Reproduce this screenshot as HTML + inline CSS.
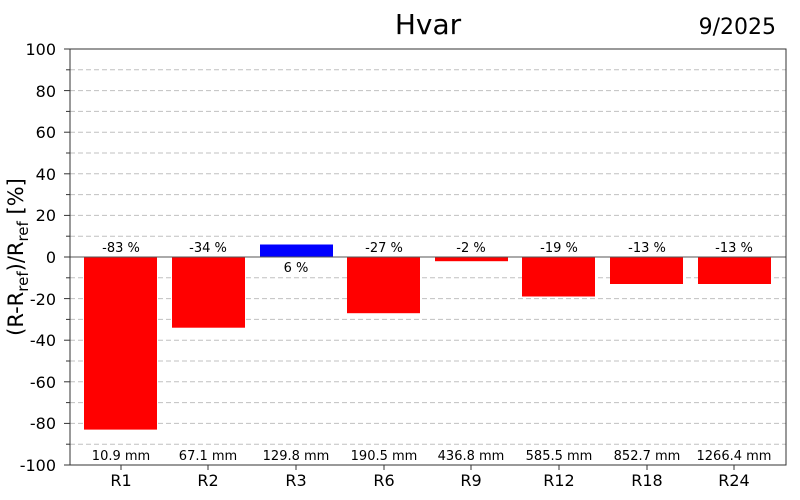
<!DOCTYPE html>
<html><head><style>body{margin:0;background:#fff}svg{display:block;font-family:"DejaVu Sans","Liberation Sans",sans-serif}</style></head><body>
<svg width="800" height="500" viewBox="0 0 800 500">
<g stroke="#c0c0c0" stroke-dasharray="5,3" stroke-width="1">
<line x1="70" x2="786" y1="69.8" y2="69.8"/><line x1="70" x2="786" y1="90.6" y2="90.6"/><line x1="70" x2="786" y1="111.4" y2="111.4"/><line x1="70" x2="786" y1="132.2" y2="132.2"/><line x1="70" x2="786" y1="153" y2="153"/><line x1="70" x2="786" y1="173.8" y2="173.8"/><line x1="70" x2="786" y1="194.6" y2="194.6"/><line x1="70" x2="786" y1="215.4" y2="215.4"/><line x1="70" x2="786" y1="236.2" y2="236.2"/><line x1="70" x2="786" y1="277.8" y2="277.8"/><line x1="70" x2="786" y1="298.6" y2="298.6"/><line x1="70" x2="786" y1="319.4" y2="319.4"/><line x1="70" x2="786" y1="340.2" y2="340.2"/><line x1="70" x2="786" y1="361" y2="361"/><line x1="70" x2="786" y1="381.8" y2="381.8"/><line x1="70" x2="786" y1="402.6" y2="402.6"/><line x1="70" x2="786" y1="423.4" y2="423.4"/><line x1="70" x2="786" y1="444.2" y2="444.2"/>
</g>
<g fill="#ff0000">
<rect x="84" y="257" width="73" height="172.6"/>
<rect x="172" y="257" width="73" height="70.7"/>
<rect x="347" y="257" width="73" height="56.2"/>
<rect x="435" y="257" width="73" height="4.2"/>
<rect x="522" y="257" width="73" height="39.5"/>
<rect x="610" y="257" width="73" height="27"/>
<rect x="698" y="257" width="73" height="27"/>
</g>
<rect x="260" y="244.5" width="73" height="12.5" fill="#0000ff"/>
<line x1="70" x2="786" y1="257" y2="257" stroke="#555" stroke-width="1"/>
<rect x="70" y="49" width="716" height="416" fill="none" stroke="#333" stroke-width="1"/>
<g stroke="#333">
<line x1="64" x2="70" y1="49" y2="49"/><line x1="64" x2="70" y1="90.6" y2="90.6"/><line x1="64" x2="70" y1="132.2" y2="132.2"/><line x1="64" x2="70" y1="173.8" y2="173.8"/><line x1="64" x2="70" y1="215.4" y2="215.4"/><line x1="64" x2="70" y1="257" y2="257"/><line x1="64" x2="70" y1="298.6" y2="298.6"/><line x1="64" x2="70" y1="340.2" y2="340.2"/><line x1="64" x2="70" y1="381.8" y2="381.8"/><line x1="64" x2="70" y1="423.4" y2="423.4"/><line x1="64" x2="70" y1="465" y2="465"/>
<line x1="66" x2="70" y1="69.8" y2="69.8"/><line x1="66" x2="70" y1="111.4" y2="111.4"/><line x1="66" x2="70" y1="153" y2="153"/><line x1="66" x2="70" y1="194.6" y2="194.6"/><line x1="66" x2="70" y1="236.2" y2="236.2"/><line x1="66" x2="70" y1="277.8" y2="277.8"/><line x1="66" x2="70" y1="319.4" y2="319.4"/><line x1="66" x2="70" y1="361" y2="361"/><line x1="66" x2="70" y1="402.6" y2="402.6"/><line x1="66" x2="70" y1="444.2" y2="444.2"/>
<line x1="121" x2="121" y1="465" y2="470"/><line x1="208" x2="208" y1="465" y2="470"/><line x1="296" x2="296" y1="465" y2="470"/><line x1="384" x2="384" y1="465" y2="470"/><line x1="471" x2="471" y1="465" y2="470"/><line x1="559" x2="559" y1="465" y2="470"/><line x1="647" x2="647" y1="465" y2="470"/><line x1="734" x2="734" y1="465" y2="470"/>
</g>
<g font-size="16" text-anchor="end" fill="#000">
<text x="56" y="55">100</text><text x="56" y="97">80</text><text x="56" y="138">60</text><text x="56" y="180">40</text><text x="56" y="221">20</text><text x="56" y="263">0</text><text x="56" y="305">-20</text><text x="56" y="346">-40</text><text x="56" y="388">-60</text><text x="56" y="429">-80</text><text x="56" y="471">-100</text>
</g>
<g font-size="16" text-anchor="middle">
<text x="121" y="486">R1</text><text x="208" y="486">R2</text><text x="296" y="486">R3</text><text x="384" y="486">R6</text><text x="471" y="486">R9</text><text x="559" y="486">R12</text><text x="647" y="486">R18</text><text x="734" y="486">R24</text>
</g>
<g font-size="13" text-anchor="middle">
<text x="121" y="252">-83 %</text><text x="208" y="252">-34 %</text><text x="296" y="272">6 %</text><text x="384" y="252">-27 %</text><text x="471" y="252">-2 %</text><text x="559" y="252">-19 %</text><text x="647" y="252">-13 %</text><text x="734" y="252">-13 %</text>
<text x="121" y="460">10.9 mm</text><text x="208" y="460">67.1 mm</text><text x="296" y="460">129.8 mm</text><text x="384" y="460">190.5 mm</text><text x="471" y="460">436.8 mm</text><text x="559" y="460">585.5 mm</text><text x="647" y="460">852.7 mm</text><text x="734" y="460">1266.4 mm</text>
</g>
<text x="428" y="34" font-size="28" text-anchor="middle">Hvar</text>
<text x="776" y="34" font-size="22" text-anchor="end">9/2025</text>
<text transform="translate(23,257) rotate(-90)" font-size="21" text-anchor="middle">(R-R<tspan font-size="15" dy="5">ref</tspan><tspan dy="-5">)/R</tspan><tspan font-size="15" dy="5">ref</tspan><tspan dy="-5"> [%]</tspan></text>
</svg>
</body></html>
